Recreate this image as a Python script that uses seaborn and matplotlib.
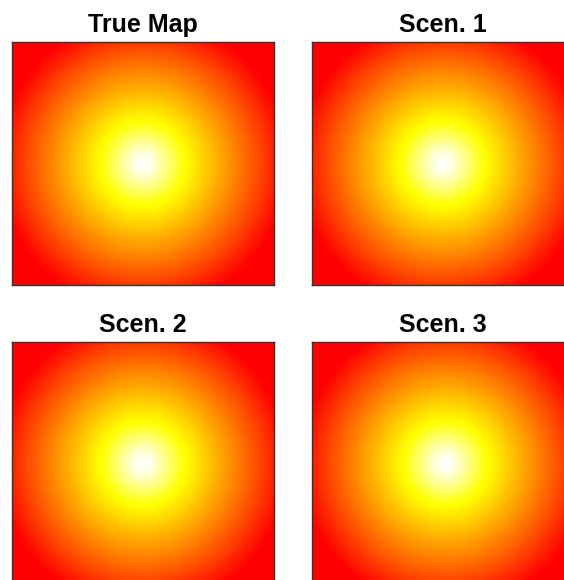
import colorsys
import numpy as np
import matplotlib
matplotlib.use("Agg")
import matplotlib.pyplot as plt
from matplotlib.colors import ListedColormap
import seaborn as sns

# panel titles and the surface: peak position, rounding of the
# peak, and the distance over which it falls to the bottom of the colour scale
titles = ["True Map", "Scen. 1", "Scen. 2", "Scen. 3"]
center_x = [0.50, 0.50, 0.50, 0.51]
center_y = [0.50, 0.50, 0.50, 0.50]
peak_round = [0.0305, 0.0305, 0.0305, 0.0305]
fall_dist = [0.5305, 0.5305, 0.5305, 0.5305]
grid_n = 120


def heat_colors(n):
    # same recipe as R's heat.colors()
    j = n // 4
    i = n - j
    cols = [colorsys.hsv_to_rgb(h, 1, 1) for h in np.linspace(0, 1 / 6, i)]
    cols += [colorsys.hsv_to_rgb(1 / 6, s, 1)
             for s in np.linspace(1 - 1 / (2 * j), 1 / (2 * j), j)]
    return ListedColormap(cols)


cmap = heat_colors(100)
gx, gy = np.meshgrid(np.linspace(0, 1, grid_n), np.linspace(0, 1, grid_n))

sns.set_style("white")
plt.rcParams["font.family"] = ["Liberation Sans", "DejaVu Sans"]

fig = plt.figure(figsize=(5.64, 5.80), dpi=100)
W, H = 564, 580
# panel boxes in pixels: left, top
boxes = [(12, 42), (312, 42), (12, 342), (312, 342)]
pw, ph = 262, 243

for k, title in enumerate(titles):
    left, top = boxes[k]
    ax = fig.add_axes([left / W, 1 - (top + ph) / H, pw / W, ph / H])
    r = np.sqrt((gx - center_x[k]) ** 2 + ((gy - center_y[k]) * ph / pw) ** 2)
    c = peak_round[k]
    z = 1 - (np.sqrt(r ** 2 + c ** 2) - c) / fall_dist[k]
    sns.heatmap(z, cmap=cmap, vmin=0, vmax=1, cbar=False,
                xticklabels=False, yticklabels=False, ax=ax, rasterized=True)
    for s in ax.spines.values():
        s.set_visible(True)
        s.set_color("#333333")
        s.set_linewidth(1.0)
    ax.set_title(title, fontsize=18, fontweight="bold", pad=7, color="black")

fig.savefig("out.png", dpi=100)
